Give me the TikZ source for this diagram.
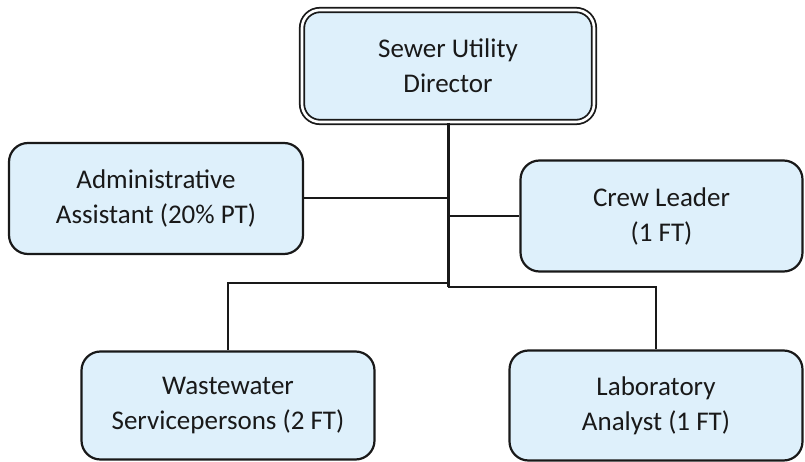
\documentclass[tikz,border=0pt]{standalone}
\usepackage{fontspec}
\setmainfont{Carlito}
\definecolor{boxfill}{RGB}{222,240,251}
\definecolor{ink}{RGB}{25,25,25}
\begin{document}
\begin{tikzpicture}[x=1pt,y=-1pt,
  orgbox/.style={draw=ink, fill=boxfill, line width=2.2pt, rounded corners=19pt,
    align=center, text=ink, inner sep=0pt,
    font=\fontsize{27}{35}\selectfont},
  topbox/.style={orgbox, double=white, line width=1.8pt, double distance=2.6pt, rounded corners=18pt},
  link/.style={draw=ink, line width=2pt},
  trunk/.style={draw=ink, line width=3pt}]
\useasboundingbox (0,0) rectangle (805,462);
\node[topbox, minimum width=292pt, minimum height=112pt] (dir) at (448,66) {Sewer Utility\\Director};
\node[orgbox, minimum width=294pt, minimum height=111pt] (admin) at (156,198.5) {Administrative\\Assistant (20\% PT)};
\node[orgbox, minimum width=282pt, minimum height=111pt] (crew) at (661.5,216) {Crew Leader\\(1 FT)};
\node[orgbox, minimum width=293pt, minimum height=108pt] (waste) at (228,405.5) {Wastewater\\Servicepersons (2 FT)};
\node[orgbox, minimum width=293pt, minimum height=110pt] (lab) at (656,405.5) {Laboratory\\Analyst (1 FT)};
\coordinate (j1) at (448,283);
\coordinate (j2) at (448,287);
\draw[trunk] (dir.south) -- (j2);
\draw[link] (admin.east) -- (admin.east -| dir.south);
\draw[link] (crew.west) -- (crew.west -| dir.south);
\draw[link] (j1) -| (waste.north);
\draw[link] (j2) -| (lab.north);
\end{tikzpicture}
\end{document}
